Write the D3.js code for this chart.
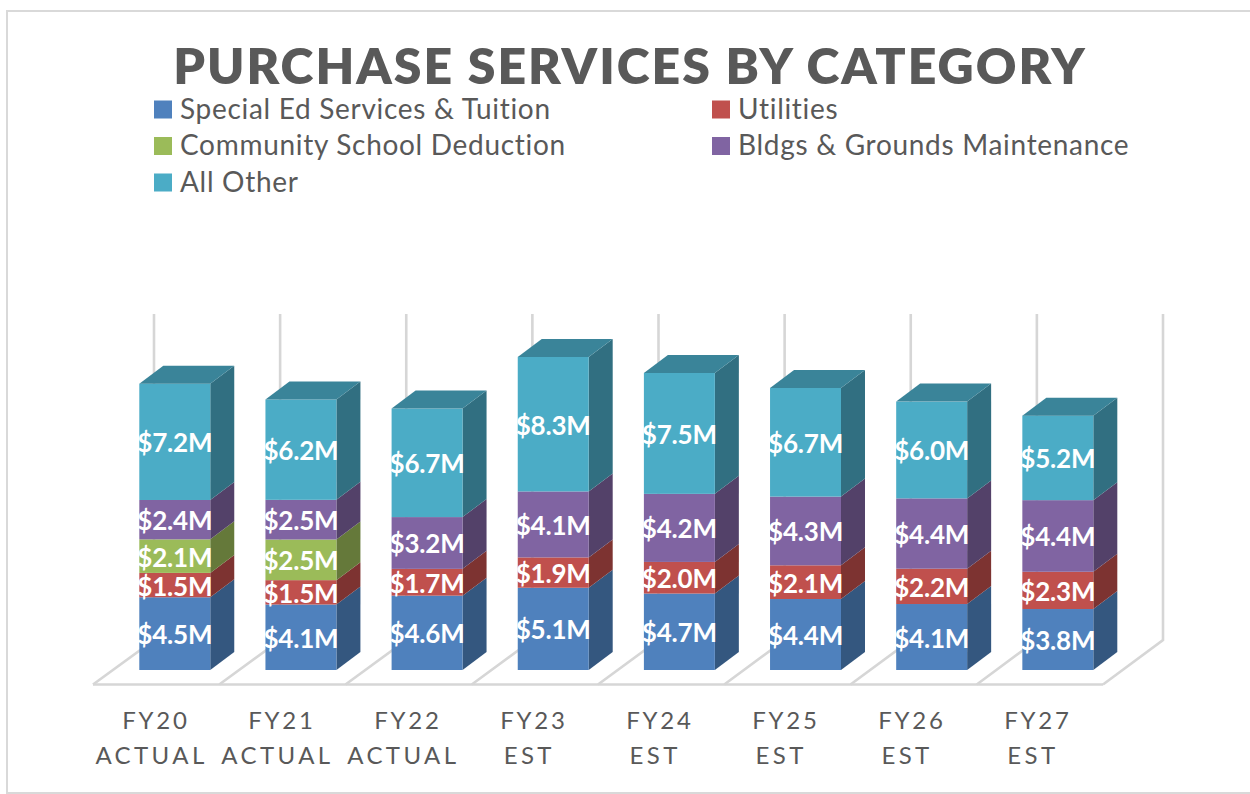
<!DOCTYPE html>
<html>
<head>
<meta charset="utf-8">
<script src="https://cdn.jsdelivr.net/npm/d3@7/dist/d3.min.js"></script>
<style>
html,body{margin:0;padding:0;background:#fff;}
svg{display:block;}
text{font-family:Lato,"Open Sans",sans-serif;}
</style>
</head>
<body>
<svg id="chart" width="1250" height="794"></svg>
<script>
const titleText = "PURCHASE SERVICES BY CATEGORY";
const fiscalYears = ["FY20","FY21","FY22","FY23","FY24","FY25","FY26","FY27"];
const yearStatus = ["ACTUAL","ACTUAL","ACTUAL","EST","EST","EST","EST","EST"];
const seriesNames = ["Special Ed Services & Tuition","Utilities","Community School Deduction","Bldgs & Grounds Maintenance","All Other"];
const specialEd = [4.51,4.06,4.61,5.10,4.74,4.40,4.09,3.78];
const utilities = [1.51,1.51,1.66,1.88,1.96,2.09,2.19,2.31];
const community = [2.08,2.52,0,0,0,0,0,0];
const bldgs     = [2.44,2.46,3.21,4.09,4.22,4.26,4.36,4.44];
const allOther  = [7.21,6.22,6.73,8.34,7.50,6.74,6.00,5.24];
const frontColors = ["#4f81bd","#c0504d","#9bbb59","#8064a2","#4bacc6"];
const sideColors  = ["#34577f","#7d3331","#65793a","#534169","#316f81"];
const topColor = "#3a8499";

const seriesValues = [specialEd, utilities, community, bldgs, allOther];
const rows = fiscalYears.map((fy,i)=>{
  const r = {fy};
  seriesNames.forEach((s,k)=> r[s]=seriesValues[k][i]);
  return r;
});
const stacked = d3.stack().keys(seriesNames)(rows);

const svg = d3.select("#chart");
const depthX = 24, depthY = 18;

// chart frame: open on the right, as cropped in the reference
svg.append("path").attr("d","M1250,11H7V793H1250")
  .attr("fill","none").attr("stroke","#d9d9d9").attr("stroke-width",2);

const x = d3.scaleBand().domain(fiscalYears).range([139.3,1093.3]).paddingInner(0.4375).paddingOuter(0);
const y = d3.scaleLinear().domain([0,20]).range([670,347.4]);
// 3D floor / wall guides
const backX = d3.scaleLinear().domain([0,8]).range([154,1163]);
const frontX = d3.scaleLinear().domain([0,8]).range([93,1103]);
const wallTop = 314, backFloor = 640, frontFloor = 684.5;
const guide = "#d6d6d6";
const g0 = svg.append("g").attr("fill","none").attr("stroke",guide).attr("stroke-width",2.6);
d3.range(0,9).forEach(i=>{
  g0.append("path").attr("d",d3.line()([[frontX(i),frontFloor],[backX(i),backFloor],[backX(i),wallTop]]));
});
g0.append("line").attr("x1",frontX(0)).attr("x2",frontX(8)).attr("y1",frontFloor).attr("y2",frontFloor);

// bars
const bars = svg.append("g");
stacked.forEach((layer,k)=>{
  const g = bars.append("g");
  layer.forEach((d,i)=>{
    if(d[1]-d[0] <= 0) return;
    const x0 = x(fiscalYears[i]), w = x.bandwidth(), y0 = y(d[0]), y1 = y(d[1]);
    g.append("polygon")
      .attr("points",[[x0+w,y1],[x0+w+depthX,y1-depthY],[x0+w+depthX,y0-depthY],[x0+w,y0]].join(" "))
      .attr("fill",sideColors[k]);
    g.append("rect").attr("x",x0).attr("y",y1).attr("width",w).attr("height",y0-y1)
      .attr("fill",frontColors[k]);
    if(k===stacked.length-1){
      g.append("polygon")
        .attr("points",[[x0,y1],[x0+depthX,y1-depthY],[x0+w+depthX,y1-depthY],[x0+w,y1]].join(" "))
        .attr("fill",topColor);
    }
  });
});

// data labels
const fmt = v => "$" + d3.format(".1f")(v) + "M";
const labels = svg.append("g").attr("fill","#fff").attr("font-size",26).attr("font-weight",700).attr("letter-spacing",-0.2).attr("text-anchor","middle");
stacked.forEach(layer=>{
  layer.forEach((d,i)=>{
    const v = d[1]-d[0];
    if(v <= 0) return;
    labels.append("text")
      .attr("x",x(fiscalYears[i])+x.bandwidth()/2)
      .attr("y",(y(d[0])+y(d[1]))/2+10.5)
      .text(fmt(v));
  });
});

// category labels
const line1X = d3.scalePoint().domain(fiscalYears).range([156,1038]);
const line2X = d3.scalePoint().domain(fiscalYears).range([151.5,1033]);
const catG = svg.append("g").attr("fill","#595959").attr("font-size",24).attr("text-anchor","middle");
fiscalYears.forEach((fy,i)=>{
  catG.append("text").attr("x",line1X(fy)).attr("y",729).attr("letter-spacing",2.8).text(fy);
  catG.append("text").attr("x",line2X(fy)).attr("y",764).attr("letter-spacing",3.4).text(yearStatus[i]);
});

// title
svg.append("text").attr("x",630).attr("y",84).attr("text-anchor","middle")
  .attr("font-size",50).attr("font-weight",800).attr("letter-spacing",2)
  .attr("fill","#595959").text(titleText);

// legend
const legendX = [154,712], legendY = [109,145.5,182];
const legend = svg.append("g");
seriesNames.forEach((s,i)=>{
  const col = i%2, row = Math.floor(i/2);
  legend.append("rect").attr("x",legendX[col]).attr("y",legendY[row]-8.5).attr("width",18).attr("height",18).attr("fill",frontColors[i]);
  legend.append("text").attr("x",legendX[col]+26).attr("y",legendY[row]+9.5)
    .attr("font-size",28).attr("letter-spacing",0.7).attr("fill","#595959").text(s);
});
</script>
</body>
</html>
